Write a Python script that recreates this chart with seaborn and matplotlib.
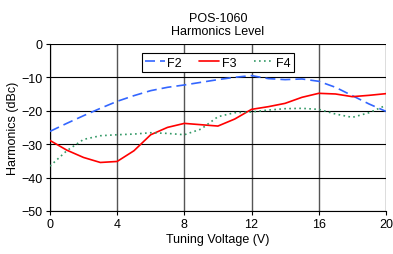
import numpy as np
import matplotlib
matplotlib.use("Agg")
import matplotlib.pyplot as plt
import seaborn as sns
import pandas as pd

voltage = [0, 1, 2, 3, 4, 5, 6, 7, 8, 9, 10, 11, 12, 13, 14, 15, 16, 17, 18, 19, 20]
f2 = [-26.2, -23.8, -21.5, -19.3, -17.2, -15.5, -14.0, -13.0, -12.3, -11.5, -10.7,
      -10.0, -9.5, -10.4, -10.7, -10.5, -11.2, -13.0, -15.5, -18.0, -20.2]
f3 = [-28.9, -31.8, -34.0, -35.5, -35.2, -32.0, -27.2, -25.0, -23.8, -24.2, -24.6,
      -22.5, -19.6, -18.8, -17.8, -16.0, -14.8, -15.0, -15.8, -15.4, -14.9]
f4 = [-36.6, -32.0, -28.6, -27.5, -27.2, -27.0, -26.6, -26.8, -27.2, -25.5, -21.8,
      -20.6, -20.4, -19.8, -19.4, -19.3, -19.6, -21.0, -22.0, -20.6, -18.4]

df = pd.DataFrame({"V": voltage, "F2": f2, "F3": f3, "F4": f4})
long = df.melt(id_vars="V", var_name="series", value_name="dBc")

sns.set_style("white")
plt.rcParams["font.family"] = ["Liberation Sans", "DejaVu Sans"]
plt.rcParams["text.color"] = "black"
plt.rcParams["axes.labelcolor"] = "black"
plt.rcParams["xtick.color"] = "black"
plt.rcParams["ytick.color"] = "black"

fig = plt.figure(figsize=(3.93, 2.55), dpi=100)
ax = fig.add_axes([0.127, 0.169, 0.855, 0.655])

palette = {"F2": "#3366FF", "F3": "#FF0000", "F4": "#339966"}
sns.lineplot(data=long, x="V", y="dBc", hue="series", palette=palette, ax=ax, linewidth=1.2)
styles = {"F2": (0, (6, 3)), "F3": "-", "F4": (0, (1, 2))}
for line, name in zip(ax.get_lines(), ["F2", "F3", "F4"]):
    line.set_linestyle(styles[name])
    line.set_zorder(3)

ax.set_axisbelow(True)
ax.set_xlim(0, 20)
ax.set_ylim(-50, 0)
ax.set_xticks(range(0, 21, 4))
ax.set_yticks(range(-50, 1, 10))
ax.grid(True, axis="x", color="#555555", linewidth=1)
ax.grid(True, axis="y", color="black", linewidth=0.8)
for s in ["top", "right"]:
    ax.spines[s].set_visible(False)
ax.spines["left"].set_color("black")
ax.spines["bottom"].set_color("black")
ax.tick_params(axis="both", labelsize=9, length=3, color="black", direction="out",
               left=True, bottom=True, pad=2)
ax.set_xlabel("Tuning Voltage (V)", fontsize=9, labelpad=2)
ax.set_ylabel("Harmonics (dBc)", fontsize=9, labelpad=2)
ax.set_title("POS-1060\nHarmonics Level", fontsize=9, pad=7, linespacing=1.15)

handles, labels = ax.get_legend_handles_labels()
leg = ax.legend(handles, labels, loc="upper center", bbox_to_anchor=(0.5, 0.98), ncol=3,
                fontsize=9, frameon=True, fancybox=False, edgecolor="black",
                handlelength=1.6, columnspacing=1.4, borderpad=0.25, handletextpad=0.2,
                framealpha=1)
leg.get_frame().set_linewidth(0.8)
for h, name in zip(leg.get_lines(), ["F2", "F3", "F4"]):
    h.set_linestyle(styles[name])

fig.savefig("out.png", dpi=100)
